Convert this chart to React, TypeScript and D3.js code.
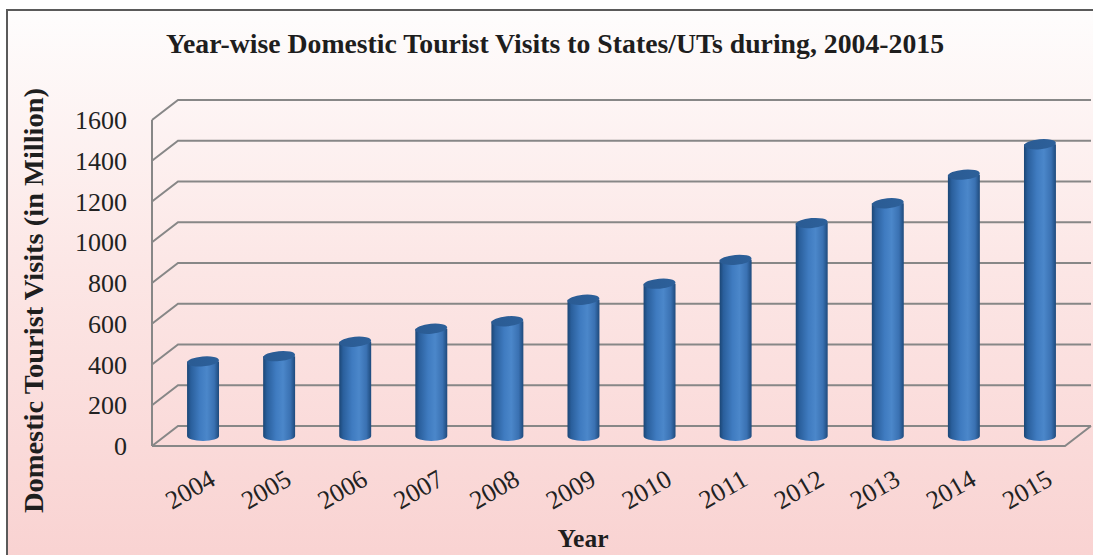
import React from "react";
import * as d3 from "d3";

const years = ["2004","2005","2006","2007","2008","2009","2010","2011","2012","2013","2014","2015"];
const visits = [366.2, 392.0, 462.3, 526.6, 563.0, 668.8, 747.7, 864.5, 1045.0, 1142.5, 1282.8, 1432.0];
const yTicks = [0, 200, 400, 600, 800, 1000, 1200, 1400, 1600];

const W = 1093, H = 555;
const DX = 26, DY = -20;
const FONT = "'Liberation Serif', 'Times New Roman', serif";

export default function App() {
  const y = d3.scaleLinear().domain([0, 1600]).range([446, 120]);
  const x = d3.scaleBand<string>().domain(years).range([152, 1065]).paddingInner(0).paddingOuter(0);
  const bw = x.bandwidth() * 0.42;
  const rx = bw / 2, ry = 5;
  const gridColor = "#878787";

  const x0 = 152, x1 = 1065;
  return (
    <svg width={W} height={H} style={{ position: "absolute", left: 0, top: 0, display: "block" }}>
      <defs>
        <linearGradient id="bg" x1="0" y1="0" x2="0" y2="1">
          <stop offset="0%" stopColor="#fefdfd" />
          <stop offset="45%" stopColor="#fce7e6" />
          <stop offset="100%" stopColor="#f9d2d1" />
        </linearGradient>
        <linearGradient id="cyl" x1="0" y1="0" x2="1" y2="0">
          <stop offset="0%" stopColor="#1b4675" />
          <stop offset="12%" stopColor="#2a5f9c" />
          <stop offset="40%" stopColor="#3f7bc0" />
          <stop offset="62%" stopColor="#4b87ca" />
          <stop offset="85%" stopColor="#3a71b2" />
          <stop offset="100%" stopColor="#1e4a7c" />
        </linearGradient>
        <linearGradient id="cyltop" x1="0" y1="0" x2="1" y2="0">
          <stop offset="0%" stopColor="#2a5b93" />
          <stop offset="100%" stopColor="#2d609a" />
        </linearGradient>
      </defs>
      <rect x={0} y={0} width={W} height={H} fill="#ffffff" />
      <rect x={7} y={10} width={W} height={H} fill="url(#bg)" stroke="#5a5a5a" strokeWidth={2} />

      {/* gridlines: front-left diagonal + back horizontal */}
      {yTicks.map((t) => (
        <path
          key={"g" + t}
          d={`M${x0},${y(t)} L${x0 + DX},${y(t) + DY} L${x1 + DX},${y(t) + DY}`}
          fill="none"
          stroke={gridColor}
          strokeWidth={2}
        />
      ))}
      {/* left axis */}
      <line x1={x0} y1={y(0)} x2={x0} y2={y(1600)} stroke={gridColor} strokeWidth={2} />
      {/* floor front and right edge */}
      <path d={`M${x0},${y(0)} L${x1},${y(0)} L${x1 + DX},${y(0) + DY}`} fill="none" stroke={gridColor} strokeWidth={2} />

      {/* bars */}
      {years.map((yr, i) => {
        const cx = (x(yr) as number) + x.bandwidth() / 2 + DX / 2;
        const base = y(0) + DY / 2;
        const top = y(visits[i]) + DY / 2;
        return (
          <g key={yr}>
            <path
              d={`M${cx - rx},${top} L${cx - rx},${base} A${rx},${ry} 0 0 0 ${cx + rx},${base} L${cx + rx},${top} Z`}
              fill="url(#cyl)"
            />
            <ellipse
              cx={cx}
              cy={top}
              rx={rx}
              ry={ry}
              fill="url(#cyltop)"
              transform={`rotate(-5 ${cx} ${top})`}
            />
          </g>
        );
      })}

      {/* y tick labels */}
      {yTicks.map((t) => (
        <text
          key={"t" + t}
          x={127}
          y={y(t) + 9}
          textAnchor="end"
          fontFamily={FONT}
          fontSize={26}
          fill="#222"
        >
          {t}
        </text>
      ))}

      {/* x tick labels */}
      {years.map((yr) => {
        const ax = (x(yr) as number) + x.bandwidth() / 2 + DX / 2 + 14;
        const ay = 484;
        return (
          <text
            key={"x" + yr}
            x={ax}
            y={ay}
            textAnchor="end"
            fontFamily={FONT}
            fontSize={26}
            fill="#222"
            transform={`rotate(-30 ${ax} ${ay})`}
          >
            {yr}
          </text>
        );
      })}

      {/* title */}
      <text
        x={555}
        y={53}
        textAnchor="middle"
        fontFamily={FONT}
        fontWeight="bold"
        fontSize={27}
        fill="#1e1e1e"
        textLength={778}
        lengthAdjust="spacingAndGlyphs"
      >
        Year-wise Domestic Tourist Visits to States/UTs during, 2004-2015
      </text>

      {/* y axis title */}
      <text
        x={0}
        y={0}
        textAnchor="middle"
        fontFamily={FONT}
        fontWeight="bold"
        fontSize={27}
        fill="#1e1e1e"
        transform={`translate(43,300.5) rotate(-90)`}
        textLength={425}
        lengthAdjust="spacingAndGlyphs"
      >
        Domestic Tourist Visits (in Million)
      </text>

      {/* x axis title */}
      <text
        x={583}
        y={547}
        textAnchor="middle"
        fontFamily={FONT}
        fontWeight="bold"
        fontSize={26}
        fill="#1e1e1e"
        textLength={51}
        lengthAdjust="spacingAndGlyphs"
      >
        Year
      </text>
    </svg>
  );
}
